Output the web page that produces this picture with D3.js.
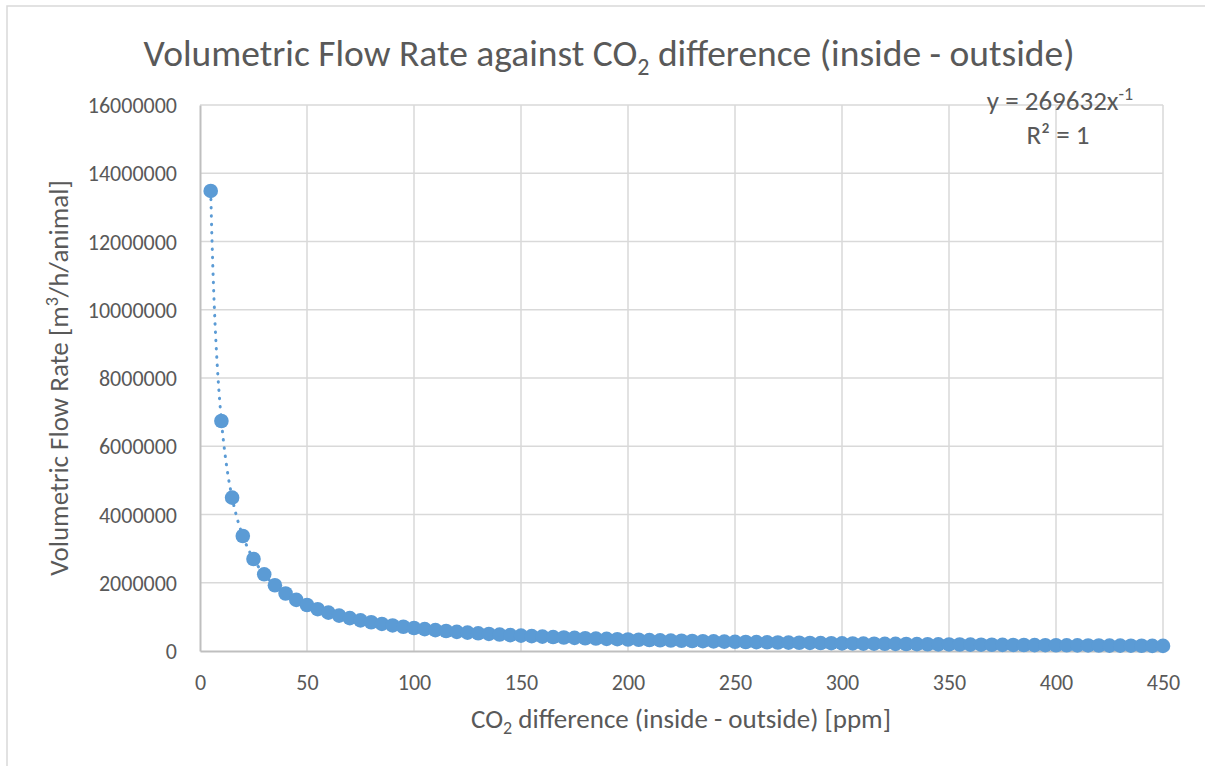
<!DOCTYPE html>
<html>
<head>
<meta charset="utf-8">
<script src="https://cdn.jsdelivr.net/npm/d3@7"></script>
<style>
  body { margin: 0; background: #fff; }
  svg text { font-family: Calibri, Carlito, Lato, sans-serif; fill: #595959; }
</style>
</head>
<body>
<svg id="chart"></svg>
<script>
// CO2 difference (inside - outside) [ppm]
const co2Diff = [5, 10, 15, 20, 25, 30, 35, 40, 45, 50, 55, 60, 65, 70, 75, 80, 85, 90, 95, 100,
    105, 110, 115, 120, 125, 130, 135, 140, 145, 150, 155, 160, 165, 170, 175, 180, 185, 190, 195, 200,
    205, 210, 215, 220, 225, 230, 235, 240, 245, 250, 255, 260, 265, 270, 275, 280, 285, 290, 295, 300,
    305, 310, 315, 320, 325, 330, 335, 340, 345, 350, 355, 360, 365, 370, 375, 380, 385, 390, 395, 400,
    405, 410, 415, 420, 425, 430, 435, 440, 445, 450];

// volumetric flow rate [m3/h/animal]
const flowRate = [13481600, 6740800, 4493867, 3370400, 2696320, 2246933, 1925943, 1685200, 1497956, 1348160,
    1225600, 1123467, 1037046, 962971, 898773, 842600, 793035, 748978, 709558, 674080,
    641981, 612800, 586157, 561733, 539264, 518523, 499319, 481486, 464883, 449387,
    434890, 421300, 408533, 396518, 385189, 374489, 364368, 354779, 345682, 337040,
    328820, 320990, 313526, 306400, 299591, 293078, 286843, 280867, 275135, 269632,
    264345, 259262, 254370, 249659, 245120, 240743, 236519, 232441, 228502, 224693,
    221010, 217445, 213994, 210650, 207409, 204267, 201218, 198259, 195386, 192594,
    189882, 187244, 184679, 182184, 179755, 177389, 175086, 172841, 170653, 168520,
    166440, 164410, 162429, 160495, 158607, 156763, 154961, 153200, 151479, 149796];

const xTicks = [0, 50, 100, 150, 200, 250, 300, 350, 400, 450];
const yTicks = [0, 2000000, 4000000, 6000000, 8000000, 10000000, 12000000, 14000000, 16000000];
const trendText = ["y = 269632x", "-1"];
const r2Text = "R² = 1";

const width = 1205, height = 766;
const margin = {top: 105, right: 42, bottom: 115, left: 200};
const blue = "#5B9BD5";
const fontFam = 'Calibri, Carlito, Lato, sans-serif';

let svg = d3.select("#chart")
    .attr("width", width)
    .attr("height", height);

// chart frame (only top and left edges visible in the picture)
svg.append("rect")
    .attr("x", 7).attr("y", 6)
    .attr("width", width + 20).attr("height", height + 20)
    .attr("fill", "none")
    .attr("stroke", "#D9D9D9")
    .attr("stroke-width", 1.5);

let x = d3.scaleLinear().domain([0, 450]).range([margin.left, width - margin.right]);
let y = d3.scaleLinear().domain([0, 16000000]).range([height - margin.bottom, margin.top]);

// gridlines
let grid = svg.append("g").attr("class", "grid");
grid.selectAll("line.h")
    .data(yTicks.slice(1))
    .enter().append("line")
    .attr("x1", x(0)).attr("x2", x(450))
    .attr("y1", d => y(d)).attr("y2", d => y(d))
    .attr("stroke", "#D9D9D9").attr("stroke-width", 1.5);
grid.selectAll("line.v")
    .data(xTicks.slice(1))
    .enter().append("line")
    .attr("x1", d => x(d)).attr("x2", d => x(d))
    .attr("y1", y(0)).attr("y2", y(16000000))
    .attr("stroke", "#D9D9D9").attr("stroke-width", 1.5);

// axes
let xAxis = svg.append("g")
    .attr("transform", `translate(0,${y(0)})`)
    .call(d3.axisBottom(x).tickValues(xTicks).tickSize(0).tickPadding(23).tickFormat(d3.format("d")));
let yAxis = svg.append("g")
    .attr("transform", `translate(${x(0)},0)`)
    .call(d3.axisLeft(y).tickValues(yTicks).tickSize(0).tickPadding(23).tickFormat(d3.format("d")));
[xAxis, yAxis].forEach(a => {
    a.select(".domain").attr("stroke", "#BFBFBF").attr("stroke-width", 2);
    a.selectAll("text").attr("font-size", 22).attr("fill", "#595959")
        .style("font-family", fontFam);
});
yAxis.selectAll("text").attr("dy", "0.35em");

// power trendline, fitted from the data in log-log space
let lx = co2Diff.map(Math.log), ly = flowRate.map(Math.log);
let mx = d3.mean(lx), my = d3.mean(ly);
let b = d3.sum(lx.map((v, i) => (v - mx) * (ly[i] - my))) / d3.sum(lx.map(v => (v - mx) ** 2));
let a = Math.exp(my - b * mx);
let trendPts = d3.range(5, 450.01, 0.5).map(v => [v, a * Math.pow(v, b)]);

svg.append("path")
    .datum(trendPts)
    .attr("d", d3.line().x(d => x(d[0])).y(d => y(d[1])))
    .attr("fill", "none")
    .attr("stroke", blue)
    .attr("stroke-width", 3)
    .attr("stroke-linecap", "round")
    .attr("stroke-dasharray", "0.5 7.8");

// markers
svg.append("g")
    .selectAll("circle")
    .data(co2Diff.map((d, i) => [d, flowRate[i]]))
    .enter().append("circle")
    .attr("cx", d => x(d[0]))
    .attr("cy", d => y(d[1]))
    .attr("r", 7.3)
    .attr("fill", blue);

// title
let title = svg.append("text")
    .attr("x", 609).attr("y", 66)
    .attr("text-anchor", "middle")
    .attr("font-size", 37.5);
title.append("tspan").text("Volumetric Flow Rate against CO");
title.append("tspan").attr("font-size", 24).attr("dy", 9).text("2");
title.append("tspan").attr("dy", -9).text(" difference (inside - outside)");

// x-axis title
let xt = svg.append("text")
    .attr("x", 681).attr("y", 728)
    .attr("text-anchor", "middle")
    .attr("font-size", 27);
xt.append("tspan").text("CO");
xt.append("tspan").attr("font-size", 18).attr("dy", 6).text("2");
xt.append("tspan").attr("dy", -6).text(" difference (inside - outside) [ppm]");

// y-axis title
let yt = svg.append("text")
    .attr("transform", "translate(68,378) rotate(-90)")
    .attr("text-anchor", "middle")
    .attr("font-size", 27);
yt.append("tspan").text("Volumetric Flow Rate [m");
yt.append("tspan").attr("font-size", 18).attr("dy", -10).text("3");
yt.append("tspan").attr("dy", 10).text("/h/animal]");

// trendline label
let tl = svg.append("text")
    .attr("x", 1060).attr("y", 110)
    .attr("text-anchor", "middle")
    .attr("font-size", 27);
tl.append("tspan").text(trendText[0]);
tl.append("tspan").attr("font-size", 18).attr("dy", -10).text(trendText[1]);
svg.append("text")
    .attr("x", 1058).attr("y", 144)
    .attr("text-anchor", "middle")
    .attr("font-size", 27)
    .text(r2Text);
</script>
</body>
</html>
